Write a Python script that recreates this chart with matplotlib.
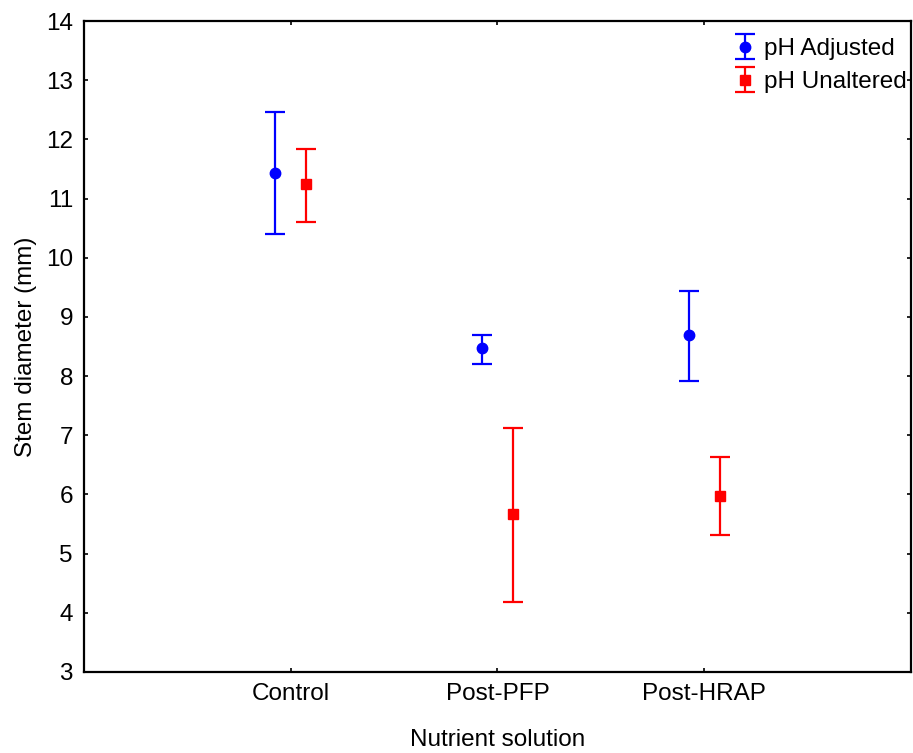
import matplotlib.pyplot as plt
import numpy as np

plt.rcParams['font.family'] = ['Liberation Sans', 'DejaVu Sans']

categories = ['Control', 'Post-PFP', 'Post-HRAP']

adj_mean = [11.44, 8.47, 8.69]
adj_upper = [12.47, 8.70, 9.44]
adj_lower = [10.40, 8.20, 7.91]

unalt_mean = [11.25, 5.67, 5.98]
unalt_upper = [11.84, 7.12, 6.64]
unalt_lower = [10.60, 4.18, 5.31]

x = np.arange(1, len(categories) + 1)
off = 0.076

fig = plt.figure(figsize=(9.13, 7.53), dpi=100)
ax = fig.add_axes([0.092, 0.1076, 0.9058, 0.8644])

adj_err = [np.array(adj_mean) - np.array(adj_lower), np.array(adj_upper) - np.array(adj_mean)]
unalt_err = [np.array(unalt_mean) - np.array(unalt_lower), np.array(unalt_upper) - np.array(unalt_mean)]

ax.errorbar(x - off, adj_mean, yerr=adj_err, fmt='o', color='#0000ff', ms=7.5,
            capsize=7.5, elinewidth=1.6, capthick=1.6, label='pH Adjusted')
ax.errorbar(x + off, unalt_mean, yerr=unalt_err, fmt='s', color='#ff0000', ms=6.5,
            capsize=7.5, elinewidth=1.6, capthick=1.6, label='pH Unaltered')

ax.set_xlim(0, 4)
ax.set_ylim(3, 14)
ax.set_xticks(x)
ax.set_xticklabels(categories)
ax.set_yticks(range(3, 15))
ax.tick_params(direction='in', length=3, width=1.2, labelsize=17.5,
               top=True, right=True, pad=8)
for s in ax.spines.values():
    s.set_linewidth(1.6)

ax.set_xlabel('Nutrient solution', fontsize=17.5, labelpad=17)
ax.set_ylabel('Stem diameter (mm)', fontsize=17.5, labelpad=6)

ax.legend(loc='upper right', bbox_to_anchor=(1.016, 1.0), frameon=False,
          fontsize=17.5, handlelength=1.2, handletextpad=0.2, labelspacing=0.45,
          borderaxespad=0.3)

fig.savefig('out.png')
